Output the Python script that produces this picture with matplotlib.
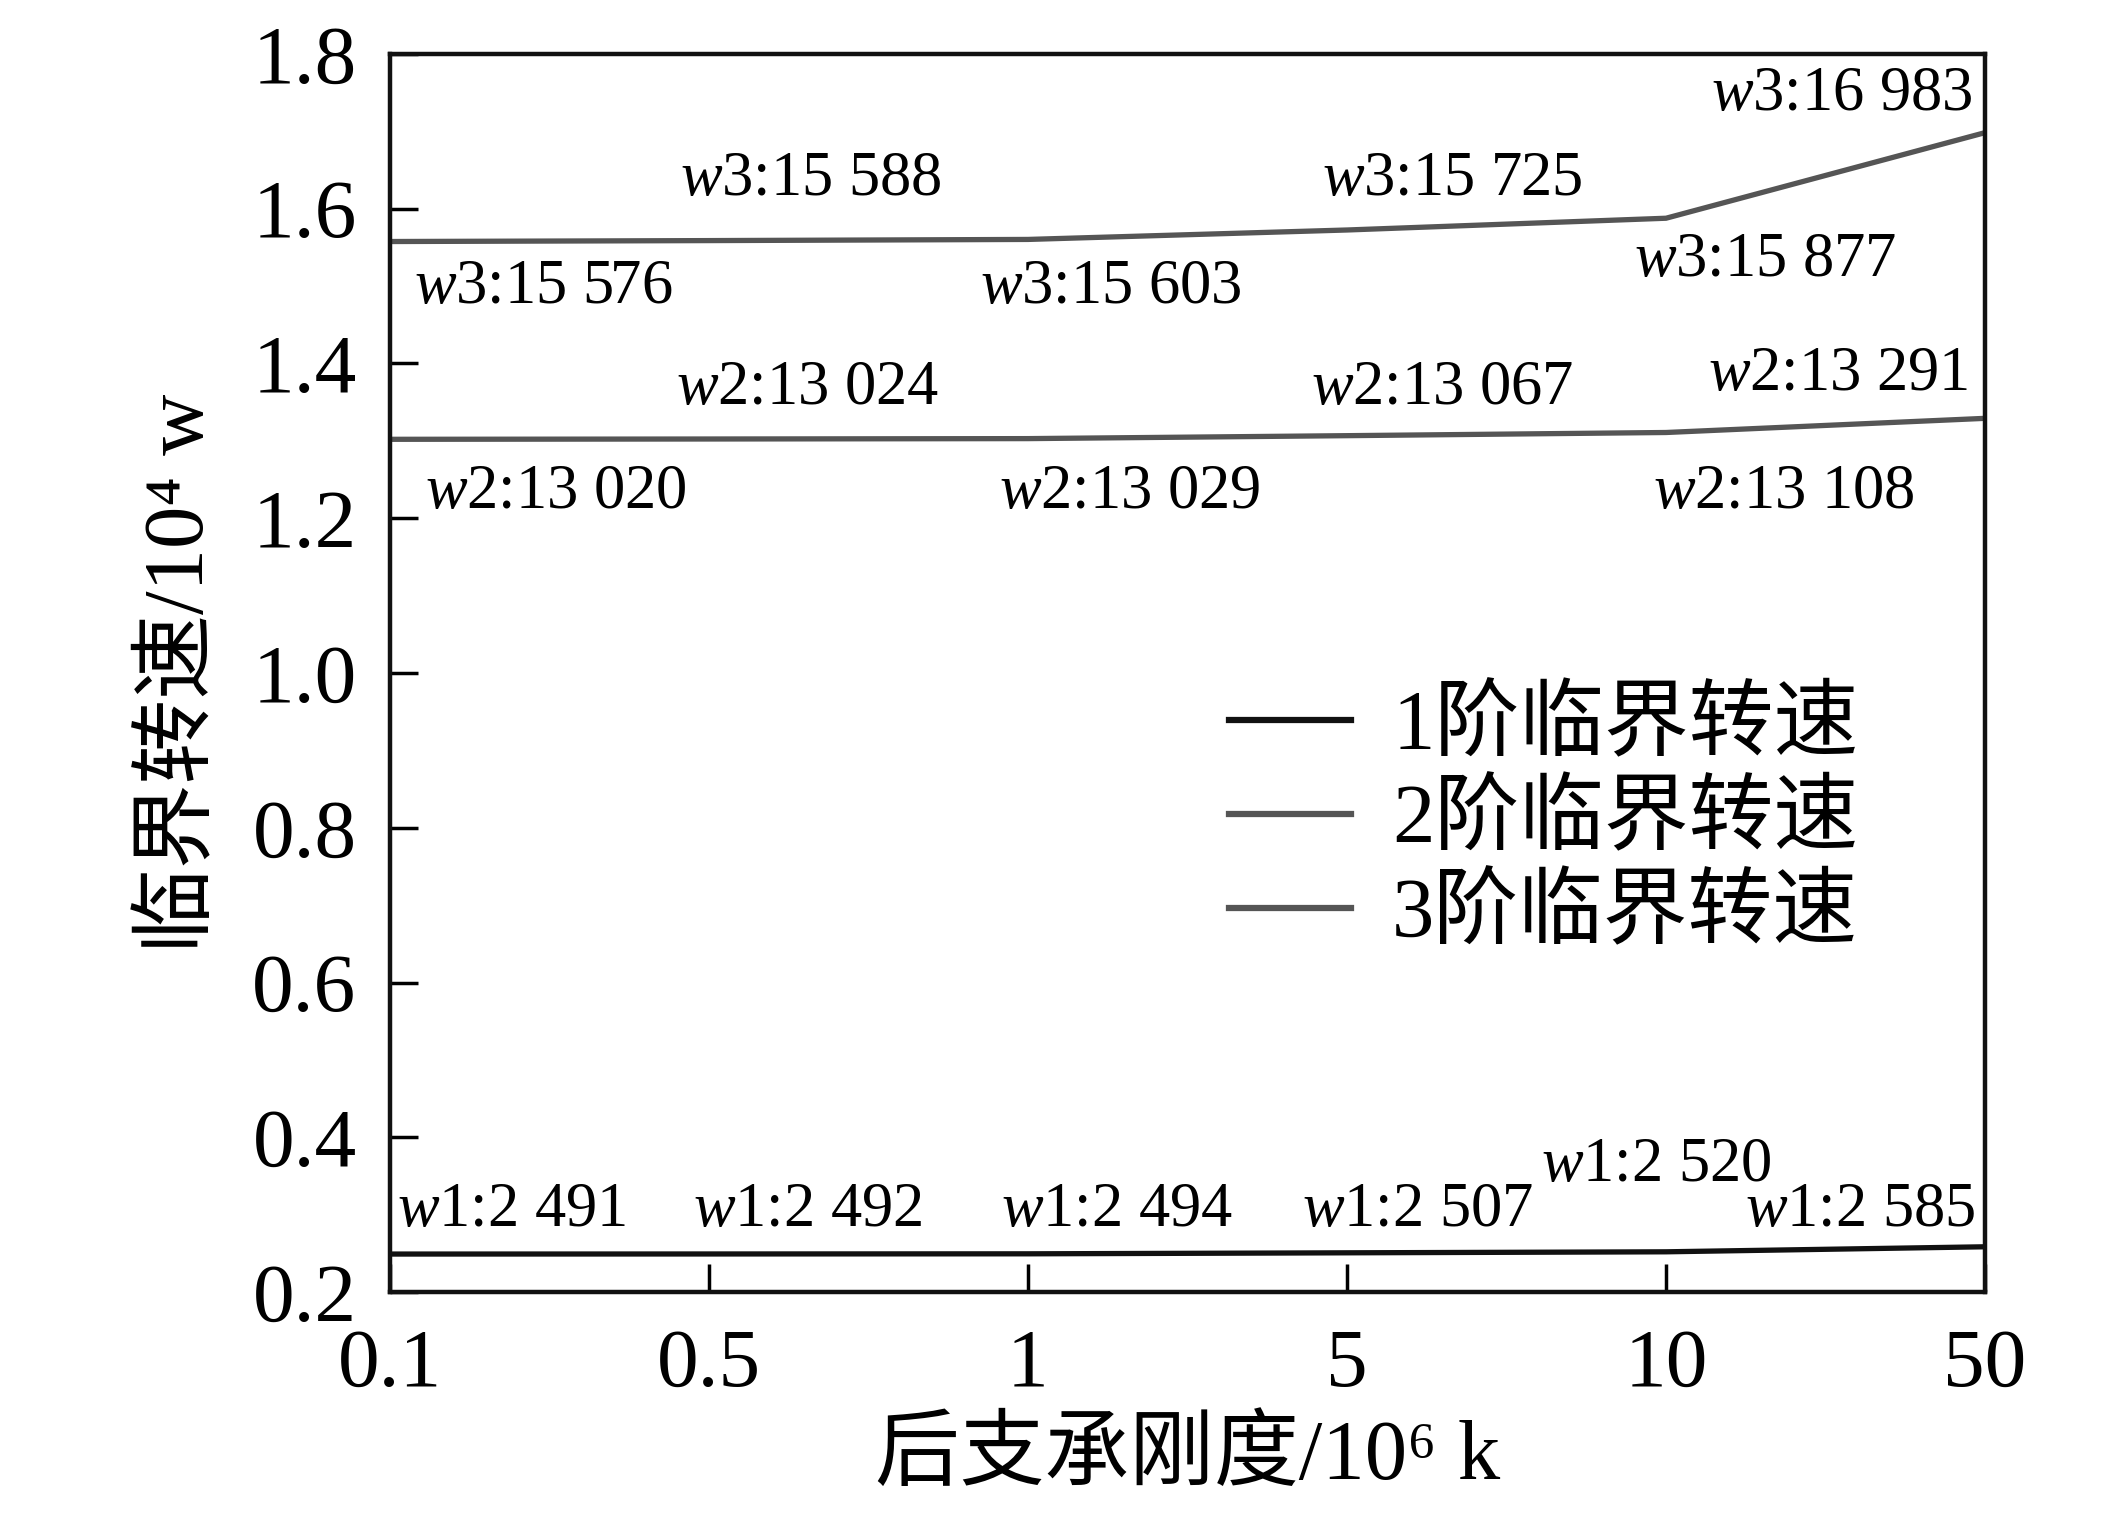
import numpy as np
import matplotlib
matplotlib.use('Agg')
import matplotlib.pyplot as plt

plt.rcParams['font.family'] = ['Liberation Serif', 'Noto Sans CJK SC']
plt.rcParams['mathtext.fontset'] = 'custom'
plt.rcParams['mathtext.rm'] = 'Liberation Serif'
plt.rcParams['mathtext.it'] = 'Liberation Serif:italic'

## data
stiffness = ['0.1', '0.5', '1', '5', '10', '50']
w1 = [2491, 2492, 2494, 2507, 2520, 2585]
w2 = [13020, 13024, 13029, 13067, 13108, 13291]
w3 = [15576, 15588, 15603, 15725, 15877, 16983]
series_names = ['1阶临界转速', '2阶临界转速', '3阶临界转速']
yticks = [0.2, 0.4, 0.6, 0.8, 1.0, 1.2, 1.4, 1.6, 1.8]

## label anchors (category index, y) for the value annotations
w1_lab = [(0.38, 0.305), (1.31, 0.305), (2.28, 0.305), (3.22, 0.305), (3.97, 0.363), (4.61, 0.305)]
w2_lab = [(0.52, 1.232), (1.31, 1.367), (2.32, 1.232), (3.30, 1.367), (4.37, 1.232), (4.54, 1.385)]
w3_lab = [(0.48, 1.497), (1.32, 1.637), (2.26, 1.497), (3.33, 1.637), (4.31, 1.532), (4.55, 1.747)]

def fmt(v):
    s = '{:,}'.format(v)
    return s.replace(',', ' ')

fig = plt.figure(figsize=(21.26, 15.24), dpi=100)
ax = fig.add_axes([0.1834, 0.1522, 0.7503, 0.8124])

x = np.arange(len(stiffness))
colors = ['#111111', '#555555', '#555555']
for vals, col, name in zip([w1, w2, w3], colors, series_names):
    ax.plot(x, np.array(vals) / 1e4, color=col, lw=3.8, label=name)

for tag, vals, labs in [('1', w1, w1_lab), ('2', w2, w2_lab), ('3', w3, w3_lab)]:
    for v, (lx, ly) in zip(vals, labs):
        ax.text(lx, ly, r'$w$' + tag + ':' + fmt(v), fontsize=45,
                ha='center', va='center')

ax.set_xlim(0, len(stiffness) - 1)
ax.set_ylim(0.2, 1.8)
ax.set_xticks(x)
ax.set_xticklabels(stiffness)
ax.set_yticks(yticks)
ax.set_yticklabels(['{:.1f}'.format(t) for t in yticks])
ax.tick_params(direction='in', length=20, width=2.5, labelsize=60, pad=26)
ax.tick_params(axis='y', pad=24)
for sp in ax.spines.values():
    sp.set_linewidth(3.2)
    sp.set_color('#111111')

ax.set_xlabel('后支承刚度/10⁶ k', fontsize=61, labelpad=10)
ax.set_ylabel('临界转速/10⁴ w', fontsize=61, labelpad=22)

leg = ax.legend(loc='center left', bbox_to_anchor=(0.478, 0.38), frameon=False,
                fontsize=61, handlelength=1.45, handletextpad=0.48, labelspacing=0.17)
for h in leg.get_lines():
    h.set_linewidth(4.5)

plt.savefig('out.png', dpi=100)
